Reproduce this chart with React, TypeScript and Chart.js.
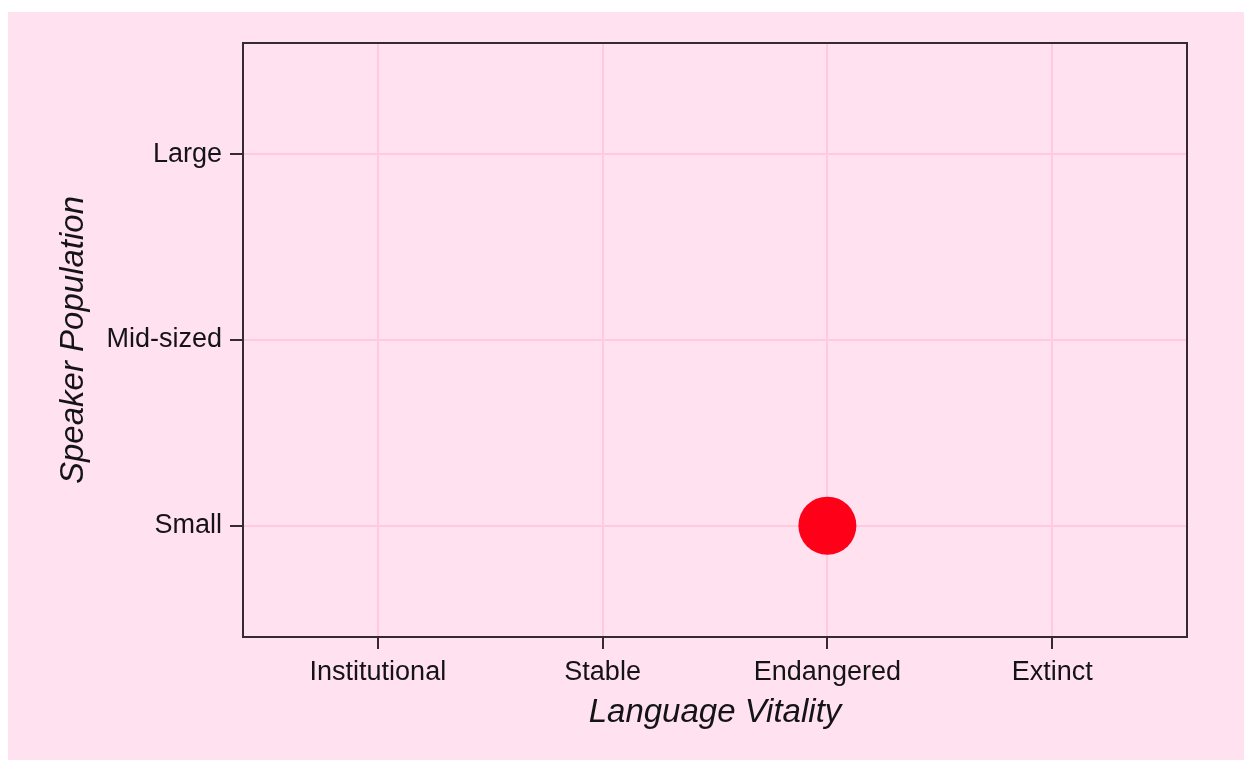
import React, { useEffect, useRef } from "react";
import { Chart, registerables } from "chart.js";

Chart.register(...registerables);

const vitalityLevels = ["Institutional", "Stable", "Endangered", "Extinct"];
const populationLevels = ["Small", "Mid-sized", "Large"];
const languageVitality = ["Endangered"];
const speakerPopulation = ["Small"];

const xTitle = "Language Vitality";
const yTitle = "Speaker Population";

const BG = "#ffe1f0";
const GRID = "#ffcadd";
const DARK = "#352a30";
const TEXT = "#141414";
const POINT = "#ff0019";
const FONT = "'Liberation Sans', Arial, sans-serif";

const borderPlugin = {
  id: "frameBorder",
  afterDatasetsDraw(chart: any) {
    const { ctx, chartArea } = chart;
    ctx.save();
    ctx.strokeStyle = DARK;
    ctx.lineWidth = 2;
    ctx.strokeRect(chartArea.left, chartArea.top, chartArea.right - chartArea.left, chartArea.bottom - chartArea.top);
    ctx.restore();
  },
};

export default function App() {
  const ref = useRef<HTMLCanvasElement | null>(null);

  useEffect(() => {
    if (!ref.current) return;
    const points = languageVitality.map((v, i) => ({
      x: vitalityLevels.indexOf(v) + 1,
      y: populationLevels.indexOf(speakerPopulation[i]) + 1,
    }));
    const chart = new Chart(ref.current, {
      type: "scatter",
      data: {
        datasets: [
          {
            data: points,
            backgroundColor: POINT,
            borderColor: POINT,
            pointRadius: 29,
            pointHoverRadius: 29,
            borderWidth: 0,
          },
        ],
      },
      options: {
        animation: false,
        responsive: false,
        maintainAspectRatio: false,
        layout: { padding: { top: 31, right: 57, left: 0, bottom: 0 } },
        plugins: { legend: { display: false }, tooltip: { enabled: false } },
        scales: {
          x: {
            type: "linear",
            min: 0.4,
            max: 4.6,
            afterBuildTicks: (scale: any) => {
              scale.ticks = vitalityLevels.map((_, i) => ({ value: i + 1 }));
            },
            afterFit: (scale: any) => {
              scale.height = 123;
            },
            ticks: {
              callback: (v: any) => vitalityLevels[Number(v) - 1] ?? "",
              color: TEXT,
              font: { family: FONT, size: 27 },
              padding: 7,
              maxRotation: 0,
              autoSkip: false,
            },
            grid: { color: GRID, lineWidth: 2, tickColor: DARK, tickLength: 12, tickWidth: 2 },
            border: { display: false },
            title: {
              display: true,
              text: xTitle,
              color: TEXT,
              font: { family: FONT, size: 33, style: "italic" },
              padding: { top: 0, bottom: 27 },
            },
          },
          y: {
            type: "linear",
            min: 0.4,
            max: 3.6,
            afterBuildTicks: (scale: any) => {
              scale.ticks = populationLevels.map((_, i) => ({ value: i + 1 }));
            },
            afterFit: (scale: any) => {
              scale.width = 235;
            },
            ticks: {
              callback: (v: any) => populationLevels[Number(v) - 1] ?? "",
              color: TEXT,
              font: { family: FONT, size: 27 },
              padding: 8,
              autoSkip: false,
            },
            grid: { color: GRID, lineWidth: 2, tickColor: DARK, tickLength: 13, tickWidth: 2 },
            border: { display: false },
            title: {
              display: true,
              text: yTitle,
              color: TEXT,
              font: { family: FONT, size: 33, style: "italic" },
              padding: { top: 46, bottom: 0 },
            },
          },
        },
      },
      plugins: [borderPlugin],
    });
    return () => chart.destroy();
  }, []);

  return (
    <div
      style={{
        position: "fixed",
        left: 8,
        top: 12,
        width: 1236,
        height: 748,
        background: BG,
      }}
    >
      <canvas ref={ref} width={1236} height={748} style={{ display: "block", width: 1236, height: 748 }} />
    </div>
  );
}
